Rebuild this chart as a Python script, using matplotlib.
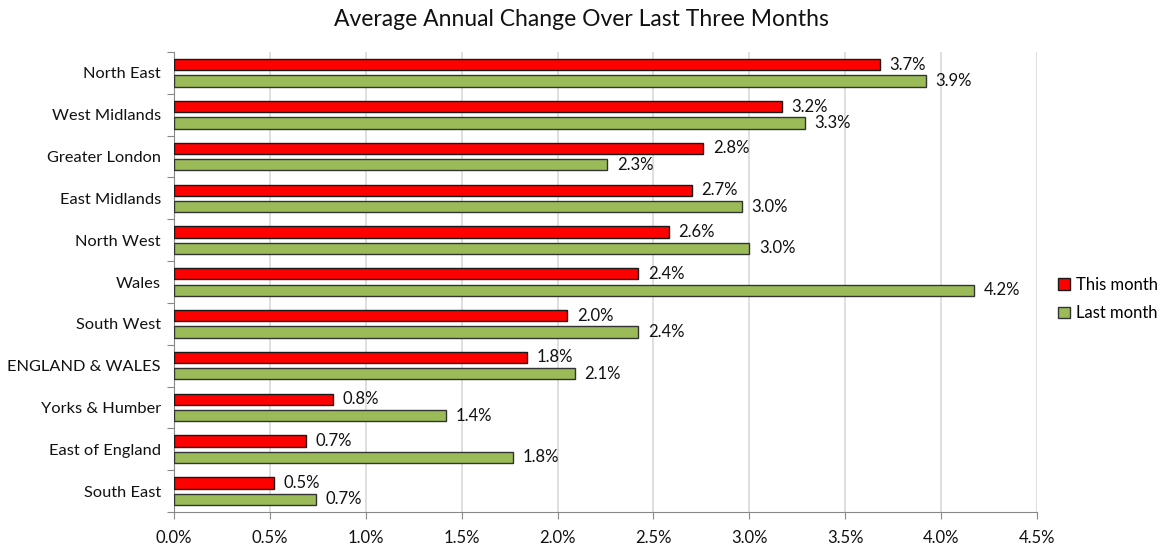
import numpy as np
import matplotlib
matplotlib.use("Agg")
import matplotlib.pyplot as plt
from matplotlib.ticker import FuncFormatter, FixedLocator

# --- Datos ---
regions = ["North East", "West Midlands", "Greater London", "East Midlands",
           "North West", "Wales", "South West", "ENGLAND & WALES",
           "Yorks & Humber", "East of England", "South East"]
this_month = [3.68, 3.17, 2.76, 2.70, 2.58, 2.42, 2.05, 1.84, 0.83, 0.69, 0.52]
last_month = [3.92, 3.29, 2.26, 2.96, 3.00, 4.17, 2.42, 2.09, 1.42, 1.77, 0.74]
series_names = ["This month", "Last month"]
colors = ["#FF0000", "#9BBB59"]

plt.rcParams['font.family'] = ['Lato', 'DejaVu Sans']

fig = plt.figure(figsize=(11.62, 5.49), dpi=100)
ax = fig.add_axes([174/1162, 1 - 512/549, (1037 - 174)/1162, (512 - 52)/549])

y = np.arange(len(regions))
h = 0.27
off = 0.195
b1 = ax.barh(y - off, this_month, height=h, color=colors[0], edgecolor="#1a1a1a",
             linewidth=1, label=series_names[0], zorder=3)
b2 = ax.barh(y + off, last_month, height=h, color=colors[1], edgecolor="#333333",
             linewidth=1, label=series_names[1], zorder=3)

# etiquetas de datos
for bars, vals in [(b1, this_month), (b2, last_month)]:
    for bar, v in zip(bars, vals):
        ax.text(v + 0.05, bar.get_y() + bar.get_height()/2, f"{v:.1f}%",
                va="center", ha="left", fontsize=12, color="#111111")

ax.set_ylim(len(regions) - 0.5, -0.5)
ax.set_xlim(0, 4.5)
ax.set_xticks(np.arange(0, 4.51, 0.5))
ax.xaxis.set_major_formatter(FuncFormatter(lambda v, p: f"{v:.1f}%"))

# ticks en los límites de categoría, etiquetas centradas
ax.yaxis.set_major_locator(FixedLocator(np.arange(-0.5, len(regions), 1)))
ax.yaxis.set_major_formatter(FuncFormatter(lambda v, p: ""))
ax.yaxis.set_minor_locator(FixedLocator(y))
ax.set_yticklabels(regions, minor=True)
ax.tick_params(axis="y", which="minor", length=0, labelsize=11.8, pad=9.5, labelcolor="#111111")
ax.tick_params(axis="y", which="major", length=5, color="#888888")
ax.tick_params(axis="x", length=5, color="#888888", labelsize=12, pad=8, labelcolor="#111111")

ax.grid(axis="x", color="#D9D9D9", linewidth=1.2, zorder=0)
ax.set_axisbelow(True)
for s in ["top", "right"]:
    ax.spines[s].set_visible(False)
for s in ["left", "bottom"]:
    ax.spines[s].set_color("#888888")

fig.text(0.5, 1 - 20/549, "Average Annual Change Over Last Three Months",
         ha="center", va="center", fontsize=16.5, color="#111111")

fig.legend(handles=[b1, b2], loc="center left", bbox_to_anchor=(1043/1162, 1 - 299/549),
           frameon=False, fontsize=12, handlelength=0.7, handleheight=0.7,
           handletextpad=0.4, labelspacing=0.75)

fig.savefig("out.png", dpi=100)
